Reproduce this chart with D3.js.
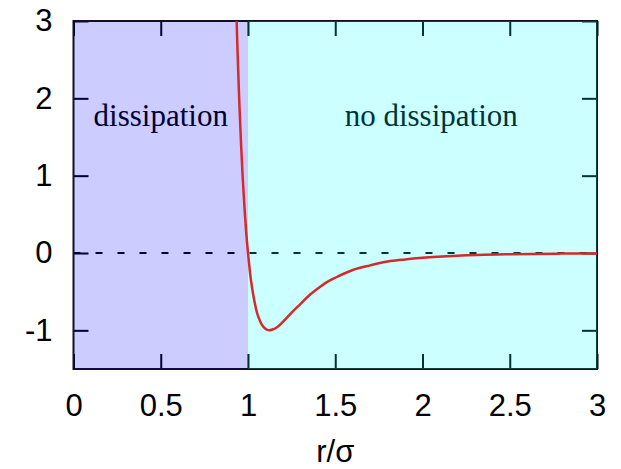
<!DOCTYPE html>
<html>
<head>
<meta charset="utf-8">
<script src="https://cdn.jsdelivr.net/npm/d3@7"></script>
<style>
  html, body { margin: 0; padding: 0; background: #fff; }
  svg { display: block; }
</style>
</head>
<body>
<svg id="chart" width="621" height="469"></svg>
<script>
// ---- data ----
const rValues = [0.935, 0.94, 0.95, 0.96, 0.97, 0.98, 0.99, 1.00, 1.01, 1.02, 1.03, 1.04, 1.05, 1.06, 1.08, 1.10, 1.12, 1.14, 1.16, 1.20, 1.25, 1.30, 1.35, 1.40, 1.45, 1.50, 1.60, 1.70, 1.80, 1.90, 2.00, 2.20, 2.50, 2.80, 3.00];
const potValues = [3.00, 2.61, 1.96, 1.42, 0.96, 0.58, 0.26, 0.00, -0.22, -0.40, -0.54, -0.66, -0.76, -0.83, -0.93, -0.98, -1.00, -0.99, -0.97, -0.89, -0.77, -0.66, -0.55, -0.46, -0.38, -0.32, -0.22, -0.16, -0.11, -0.083, -0.062, -0.035, -0.016, -0.008, -0.005];
const xTicks = [0, 0.5, 1, 1.5, 2, 2.5, 3];
const xTickLabels = ["0", "0.5", "1", "1.5", "2", "2.5", "3"];
const yTicks = [-1, 0, 1, 2, 3];
const yTickLabels = ["-1", "0", "1", "2", "3"];
const regionNames = ["dissipation", "no dissipation"];
const regionStarts = [0, 1];
const regionEnds = [1, 3];
const regionColors = ["#0000ff", "#00ffff"];
const regionLabelX = [0.5, 2.05];
const regionLabelY = 1.64;
const xLabel = "r/σ";

// ---- layout ----
const svg = d3.select("#chart");
const pLeft = 73.5, pRight = 597, pTop = 21, pBottom = 369;
const x = d3.scaleLinear().domain([0, 3]).range([pLeft, pRight]);
const y = d3.scaleLinear().domain([-1.5, 3]).range([pBottom, pTop]);
const tickFont = "'Liberation Sans', Arial, sans-serif";
const serifFont = "'Liberation Serif', 'Times New Roman', serif";

svg.append("rect").attr("x", 0).attr("y", 0).attr("width", 621).attr("height", 469).attr("fill", "#fff");

// dashed zero line
svg.append("line")
  .attr("x1", x(0)).attr("x2", x(3))
  .attr("y1", y(0)).attr("y2", y(0))
  .attr("stroke", "#000").attr("stroke-width", 2)
  .attr("stroke-dasharray", "7,15");

// region labels
svg.selectAll("text.region")
  .data(regionNames)
  .join("text")
  .attr("class", "region")
  .attr("x", (d, i) => x(regionLabelX[i]))
  .attr("y", y(regionLabelY))
  .attr("text-anchor", "middle")
  .attr("font-family", serifFont)
  .attr("font-size", 31)
  .attr("fill", "#000")
  .text(d => d);

function styleAxis(g) {
  g.select(".domain").remove();
  g.selectAll(".tick line").attr("stroke", "#000").attr("stroke-width", 2);
  g.selectAll(".tick text").attr("font-family", tickFont).attr("font-size", 31).attr("fill", "#000");
}
svg.append("g").attr("transform", `translate(0,${pBottom})`)
  .call(d3.axisBottom(x).tickValues(xTicks).tickFormat((d, i) => xTickLabels[i]).tickSizeInner(-15).tickSizeOuter(0).tickPadding(25))
  .call(styleAxis);
svg.append("g").attr("transform", `translate(0,${pTop})`)
  .call(d3.axisTop(x).tickValues(xTicks).tickFormat("").tickSizeInner(-15).tickSizeOuter(0))
  .call(styleAxis);
svg.append("g").attr("transform", `translate(${pLeft},0)`)
  .call(d3.axisLeft(y).tickValues(yTicks).tickFormat((d, i) => yTickLabels[i]).tickSizeInner(-15).tickSizeOuter(0).tickPadding(21))
  .call(styleAxis);
svg.append("g").attr("transform", `translate(${pRight},0)`)
  .call(d3.axisRight(y).tickValues(yTicks).tickFormat("").tickSizeInner(-15).tickSizeOuter(0))
  .call(styleAxis);

// frame
svg.append("rect")
  .attr("x", pLeft).attr("y", pTop)
  .attr("width", pRight - pLeft).attr("height", pBottom - pTop)
  .attr("fill", "none").attr("stroke", "#111").attr("stroke-width", 2);

// translucent region overlays
svg.selectAll("rect.region")
  .data(regionNames)
  .join("rect")
  .attr("class", "region")
  .attr("x", (d, i) => x(regionStarts[i]))
  .attr("y", pTop)
  .attr("width", (d, i) => x(regionEnds[i]) - x(regionStarts[i]))
  .attr("height", pBottom - pTop)
  .attr("fill", (d, i) => regionColors[i])
  .attr("fill-opacity", 0.2);

svg.append("clipPath").attr("id", "clip")
  .append("rect").attr("x", pLeft).attr("y", pTop).attr("width", pRight - pLeft).attr("height", pBottom - pTop);

const pts = rValues.map((r, i) => [r, potValues[i]]);
svg.append("path")
  .datum(pts)
  .attr("clip-path", "url(#clip)")
  .attr("fill", "none")
  .attr("stroke", "#d42a2a")
  .attr("stroke-width", 2.5)
  .attr("d", d3.line().x(d => x(d[0])).y(d => y(d[1])).curve(d3.curveMonotoneX));

svg.append("text")
  .attr("x", (pLeft + pRight) / 2)
  .attr("y", 462)
  .attr("text-anchor", "middle")
  .attr("font-family", tickFont)
  .attr("font-size", 31)
  .attr("fill", "#000")
  .text(xLabel);
</script>
</body>
</html>
